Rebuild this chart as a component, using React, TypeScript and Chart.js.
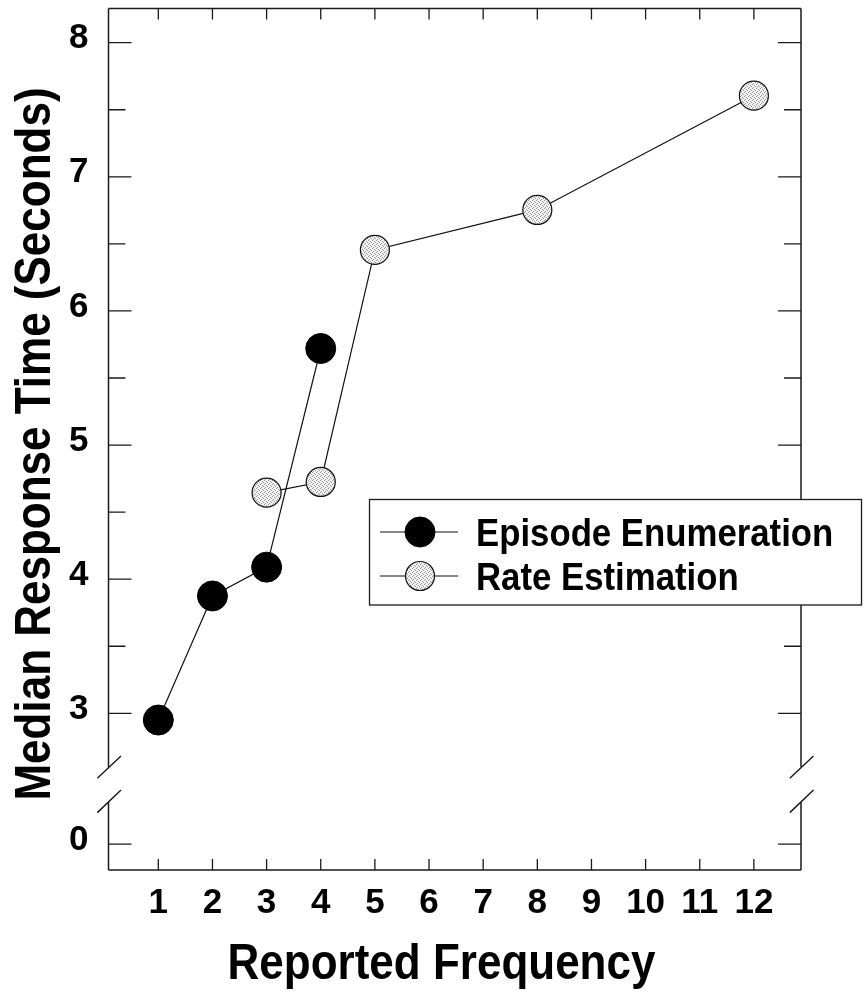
import React, { useEffect, useRef } from 'react';
import { Chart, registerables } from 'chart.js';

Chart.register(...registerables);

const FONT = '"Liberation Sans", Arial, Helvetica, sans-serif';

// ---- data ----
const xTickValues = [1, 2, 3, 4, 5, 6, 7, 8, 9, 10, 11, 12];
const yTickValues = [3, 4, 5, 6, 7, 8];
const yMinorTickValues = [3.5, 4.5, 5.5, 6.5, 7.5];
const yZeroLabel = '0';
const Y_ZERO_POS = 2.025; // where "0" sits on the broken axis
const BREAK_CENTER = 2.47; // centre of the axis break
const X_MIN = 0.08;
const X_MAX = 12.87;
const Y_MIN = 1.832;
const Y_MAX = 8.199;
const Y_FRAME_TOP = 8.254; // top edge of the plot frame

const episodeX = [1, 2, 3, 4];
const episodeY = [2.95, 3.875, 4.09, 5.72];
const rateX = [3, 4, 5, 8, 12];
const rateY = [4.645, 4.725, 6.455, 6.753, 7.605];
const seriesNames = ['Episode Enumeration', 'Rate Estimation'];
const xAxisTitle = 'Reported Frequency';
const yAxisTitle = 'Median Response Time (Seconds)';

function makeStipple(): any {
  const c = document.createElement('canvas');
  c.width = 4;
  c.height = 4;
  const g = c.getContext('2d');
  if (!g) return '#dadada';
  g.fillStyle = '#f1f1f1';
  g.fillRect(0, 0, 4, 4);
  g.fillStyle = '#9a9a9a';
  [[0, 0], [2, 1], [1, 3], [3, 2]].forEach(([a, b]) => g.fillRect(a, b, 1, 1));
  return g.createPattern(c, 'repeat') || '#dadada';
}

const CONDENSE = 0.88;
const ZERO_PAD = () => ({ left: 0, top: 0, right: 0, bottom: 0 });

const decorPlugin = {
  id: 'decor',
  beforeDatasetsDraw(chart: any) {
    const { ctx, chartArea: a, scales } = chart;
    const x = scales.x;
    const y = scales.y;
    const top = y.getPixelForValue(Y_FRAME_TOP);
    const yc = y.getPixelForValue(BREAK_CENTER);
    const gap = 17.5;
    ctx.save();
    ctx.strokeStyle = '#1a1a1a';
    ctx.lineWidth = 1.5;
    ctx.beginPath();
    ctx.moveTo(a.left, top);
    ctx.lineTo(a.right, top);
    ctx.moveTo(a.left, a.bottom);
    ctx.lineTo(a.right, a.bottom);
    for (const ax of [a.left, a.right]) {
      ctx.moveTo(ax, top);
      ctx.lineTo(ax, yc - gap);
      ctx.moveTo(ax, yc + gap);
      ctx.lineTo(ax, a.bottom);
    }
    ctx.stroke();

    // break marks
    ctx.lineWidth = 1.4;
    ctx.beginPath();
    for (const ax of [a.left, a.right]) {
      ctx.moveTo(ax - 11.2, yc - 6.2);
      ctx.lineTo(ax + 12.5, yc - 28.5);
      ctx.moveTo(ax - 11.2, yc + 28.2);
      ctx.lineTo(ax + 12.5, yc + 5.5);
    }
    ctx.stroke();

    // ticks (inward)
    ctx.lineWidth = 1.3;
    ctx.beginPath();
    const majors = [Y_ZERO_POS, ...yTickValues];
    majors.forEach((v) => {
      const p = y.getPixelForValue(v);
      ctx.moveTo(a.left, p);
      ctx.lineTo(a.left + 23, p);
      ctx.moveTo(a.right, p);
      ctx.lineTo(a.right - 23, p);
    });
    yMinorTickValues.forEach((v) => {
      const p = y.getPixelForValue(v);
      ctx.moveTo(a.left, p);
      ctx.lineTo(a.left + 17, p);
      ctx.moveTo(a.right, p);
      ctx.lineTo(a.right - 17, p);
    });
    xTickValues.forEach((v) => {
      const p = x.getPixelForValue(v);
      ctx.moveTo(p, a.bottom);
      ctx.lineTo(p, a.bottom - 11);
      ctx.moveTo(p, top);
      ctx.lineTo(p, top + 11);
    });
    ctx.stroke();
    ctx.restore();
  },
  afterDraw(chart: any) {
    const { ctx } = chart;
    ctx.save();
    ctx.fillStyle = '#000';
    ctx.font = `bold 50px ${FONT}`;
    ctx.textBaseline = 'alphabetic';
    ctx.textAlign = 'center';
    // x title
    ctx.save();
    ctx.translate(441.5, 979);
    ctx.scale(CONDENSE, 1);
    ctx.fillText(xAxisTitle, 0, 0);
    ctx.restore();
    // y title
    ctx.save();
    ctx.translate(50, 444);
    ctx.rotate(-Math.PI / 2);
    ctx.scale(CONDENSE, 1);
    ctx.fillText(yAxisTitle, 0, 0);
    ctx.restore();

    // legend
    const bx = 369.5;
    const by = 499.5;
    const bw = 492;
    const bh = 105.5;
    ctx.fillStyle = '#fff';
    ctx.fillRect(bx, by, bw, bh);
    ctx.strokeStyle = '#1a1a1a';
    ctx.lineWidth = 1.3;
    ctx.strokeRect(bx, by, bw, bh);
    const rows = [532, 576];
    chart.data.datasets.forEach((ds: any, i: number) => {
      const ry = rows[i];
      ctx.strokeStyle = ds.borderColor;
      ctx.lineWidth = ds.borderWidth;
      ctx.beginPath();
      ctx.moveTo(380, ry);
      ctx.lineTo(458, ry);
      ctx.stroke();
      ctx.beginPath();
      ctx.arc(420, ry, ds.pointRadius, 0, Math.PI * 2);
      ctx.fillStyle = ds.pointBackgroundColor;
      ctx.fill();
      ctx.lineWidth = ds.pointBorderWidth;
      ctx.strokeStyle = ds.pointBorderColor;
      ctx.stroke();
      ctx.save();
      ctx.fillStyle = '#000';
      ctx.font = `bold 39.5px ${FONT}`;
      ctx.textAlign = 'left';
      ctx.textBaseline = 'alphabetic';
      ctx.translate(476, ry + 14);
      ctx.scale(CONDENSE, 1);
      ctx.fillText(ds.label, 0, 0);
      ctx.restore();
    });
    ctx.restore();
  },
};

export default function App() {
  const ref = useRef<HTMLCanvasElement | null>(null);
  useEffect(() => {
    if (!ref.current) return;
    const stipple = makeStipple();
    const chart = new Chart(ref.current, {
      type: 'line',
      data: {
        datasets: [
          {
            label: seriesNames[0],
            data: episodeX.map((v, i) => ({ x: v, y: episodeY[i] })),
            borderColor: '#111',
            borderWidth: 1.2,
            pointRadius: 15,
            pointBackgroundColor: '#000',
            pointBorderColor: '#000',
            pointBorderWidth: 1,
            tension: 0,
            fill: false,
          },
          {
            label: seriesNames[1],
            data: rateX.map((v, i) => ({ x: v, y: rateY[i] })),
            borderColor: '#111',
            borderWidth: 1.2,
            pointRadius: 14.5,
            pointBackgroundColor: stipple,
            pointBorderColor: '#111',
            pointBorderWidth: 1.2,
            tension: 0,
            fill: false,
          },
        ],
      },
      options: {
        responsive: false,
        animation: false,
        devicePixelRatio: 1,
        layout: { padding: { left: 0, top: 8.7, right: 64, bottom: 0 } },
        plugins: { legend: { display: false }, tooltip: { enabled: false } },
        scales: {
          x: {
            type: 'linear',
            min: X_MIN,
            max: X_MAX,
            afterBuildTicks: (s: any) => {
              s.ticks = xTickValues.map((v) => ({ value: v }));
            },
            afterFit: (s: any) => {
              s.height = 127;
              s.paddingLeft = 0;
              s.paddingRight = 0;
              s.getPadding = ZERO_PAD;
            },
            ticks: {
              autoSkip: false,
              maxRotation: 0,
              padding: 12,
              color: '#000',
              font: { family: FONT, size: 35, weight: 'bold' },
              callback: (v: any) => String(v),
            },
            grid: { display: false, drawTicks: false },
            border: { display: false },
          },
          y: {
            type: 'linear',
            min: Y_MIN,
            max: Y_MAX,
            afterBuildTicks: (s: any) => {
              s.ticks = [Y_ZERO_POS, ...yTickValues].map((v) => ({ value: v }));
            },
            afterFit: (s: any) => {
              s.width = 108.5;
              s.paddingTop = 0;
              s.paddingBottom = 0;
              s.getPadding = ZERO_PAD;
            },
            ticks: {
              autoSkip: false,
              padding: 20,
              labelOffset: -4,
              color: '#000',
              font: { family: FONT, size: 35, weight: 'bold' },
              callback: (v: any) => (v === Y_ZERO_POS ? yZeroLabel : String(v)),
            },
            grid: { display: false, drawTicks: false },
            border: { display: false },
          },
        },
      } as any,
      plugins: [decorPlugin],
    });
    return () => chart.destroy();
  }, []);
  return (
    <div style={{ position: 'fixed', left: 0, top: 0, width: 865, height: 997, background: '#fff' }}>
      <canvas ref={ref} width={865} height={997} style={{ display: 'block' }} />
    </div>
  );
}
